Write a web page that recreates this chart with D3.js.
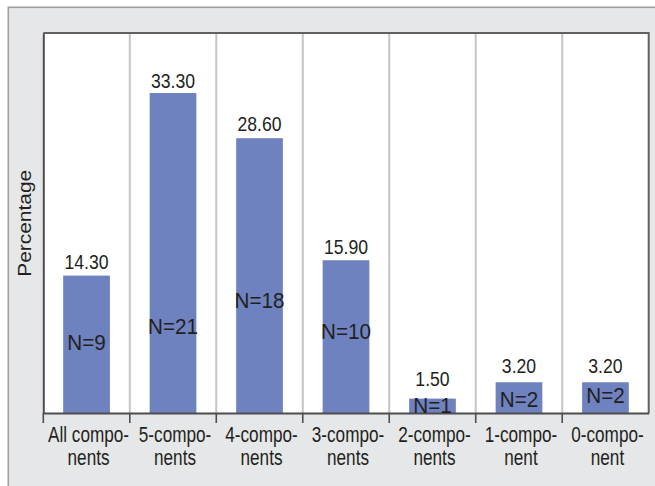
<!DOCTYPE html>
<html>
<head>
<meta charset="utf-8">
<script src="https://cdn.jsdelivr.net/npm/d3@7"></script>
<style>
  html, body { margin: 0; padding: 0; background: #ffffff; }
  svg { display: block; }
  text { font-family: "Liberation Sans", Arial, Helvetica, sans-serif; fill: #231f20; }
</style>
</head>
<body>
<svg id="chart" width="655" height="486"></svg>
<script>
// Share of cases by number of components present
const categories = ["All compo-\nnents", "5-compo-\nnents", "4-compo-\nnents", "3-compo-\nnents",
                    "2-compo-\nnents", "1-compo-\nnent", "0-compo-\nnent"];
const percentages = [14.30, 33.30, 28.60, 15.90, 1.50, 3.20, 3.20];
const counts = [9, 21, 18, 10, 1, 2, 2];

// Label placement (layout only): baseline of each "N=" label in percentage units,
// and pixel gap between each bar top and its value label
const countLabelAt = [6.6, 8.2, 10.9, 7.7, 0.0, 0.65, 1.0];
const valueLabelGap = [6.7, 4.6, 7.3, 6.7, 12.3, 9.3, 9.3];

const W = 655, H = 486;
const plot = { left: 43.3, right: 648.7, top: 33, bottom: 413 };

const svg = d3.select("#chart");

// Outer panel
svg.append("rect")
  .attr("x", 8.3).attr("y", 7.3)
  .attr("width", W + 10).attr("height", H + 10)
  .attr("fill", "#e6e7e8")
  .attr("stroke", "#9d9fa2").attr("stroke-width", 1.6);

// Plot background
svg.append("rect")
  .attr("x", plot.left).attr("y", plot.top)
  .attr("width", plot.right - plot.left).attr("height", plot.bottom - plot.top)
  .attr("fill", "#ffffff");

const x = d3.scaleBand()
  .domain(categories)
  .range([plot.left, plot.right])
  .paddingInner(0.46)
  .paddingOuter(0.23);

const y = d3.scaleLinear()
  .domain([0, 39.55])
  .range([plot.bottom, plot.top]);

const step = x.step();
const boundary = d => x(d) - step * x.paddingInner() / 2;

// Vertical separators between categories
svg.append("g")
  .selectAll("line")
  .data(categories.slice(1))
  .join("line")
  .attr("x1", d => boundary(d)).attr("x2", d => boundary(d))
  .attr("y1", plot.top).attr("y2", plot.bottom)
  .attr("stroke", "#c4c5c7").attr("stroke-width", 2);

// Bars
svg.append("g")
  .selectAll("rect")
  .data(percentages)
  .join("rect")
  .attr("x", (d, i) => x(categories[i]))
  .attr("y", d => y(d))
  .attr("width", x.bandwidth())
  .attr("height", d => y(0) - y(d))
  .attr("fill", "#6f82c0");

// Frame: top and right edges
svg.append("path")
  .attr("d", `M${plot.left},${plot.top}H${plot.right}V${plot.bottom}`)
  .attr("fill", "none").attr("stroke", "#616163").attr("stroke-width", 2);

// Y axis (no ticks)
const yAxis = svg.append("g")
  .attr("transform", `translate(${plot.left},0)`)
  .call(d3.axisLeft(y).tickValues([]).tickSizeOuter(0));
yAxis.select(".domain").attr("stroke", "#4d4d4f").attr("stroke-width", 2);

// X axis with ticks at category boundaries
const xAxis = svg.append("g")
  .attr("transform", `translate(0,${plot.bottom})`)
  .call(d3.axisBottom(x).tickValues([]).tickSizeOuter(0));
xAxis.select(".domain").attr("stroke", "#4d4d4f").attr("stroke-width", 2);
xAxis.selectAll("line.sep")
  .data(categories)
  .join("line")
  .attr("class", "sep")
  .attr("x1", d => boundary(d)).attr("x2", d => boundary(d))
  .attr("y1", 0).attr("y2", 10)
  .attr("stroke", "#4d4d4f").attr("stroke-width", 1.6);

// Category labels (two lines each)
const catLabels = svg.append("g")
  .selectAll("text")
  .data(categories)
  .join("text")
  .attr("transform", d => `translate(${x(d) + x.bandwidth() / 2 + 2},442) scale(0.78,1)`)
  .attr("text-anchor", "middle")
  .attr("font-size", 22);
catLabels.selectAll("tspan")
  .data(d => d.split("\n"))
  .join("tspan")
  .attr("x", 0)
  .attr("y", (d, i) => i * 23.5)
  .text(d => d);

// Value labels above bars
svg.append("g")
  .selectAll("text")
  .data(percentages)
  .join("text")
  .attr("transform", (d, i) =>
    `translate(${x(categories[i]) + x.bandwidth() / 2},${y(d) - valueLabelGap[i]}) scale(0.86,1)`)
  .attr("text-anchor", "middle")
  .attr("font-size", 20.5)
  .text(d => d.toFixed(2));

// Case counts on bars
svg.append("g")
  .selectAll("text")
  .data(counts)
  .join("text")
  .attr("transform", (d, i) =>
    `translate(${x(categories[i]) + x.bandwidth() / 2},${y(countLabelAt[i])}) scale(0.94,1)`)
  .attr("text-anchor", "middle")
  .attr("font-size", 22)
  .text(d => `N=${d}`);

// Y axis title
svg.append("text")
  .attr("transform", "translate(31,223.3) rotate(-90) scale(1.13,1)")
  .attr("text-anchor", "middle")
  .attr("font-size", 18.5)
  .text("Percentage");
</script>
</body>
</html>
